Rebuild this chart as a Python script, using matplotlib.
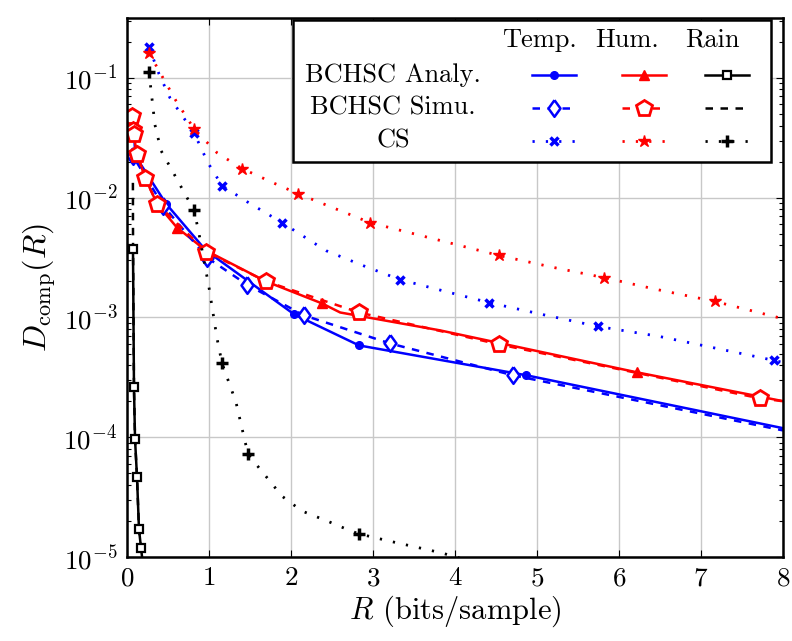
import numpy as np
import matplotlib
matplotlib.use("Agg")
import matplotlib.pyplot as plt
from matplotlib.patches import Rectangle
from matplotlib.lines import Line2D

plt.rcParams['font.family'] = 'serif'
plt.rcParams['font.serif'] = ['cmr10']
plt.rcParams['mathtext.fontset'] = 'cm'
plt.rcParams['axes.formatter.use_mathtext'] = True
plt.rcParams['font.size'] = 19

# BCHSC analytical
temp_an_R = [0.06, 0.085, 0.10, 0.476, 0.963, 2.04, 2.83, 4.87, 8.0]
temp_an_D = [0.046, 0.038, 0.0224, 8.9e-3, 3.62e-3, 1.06e-3, 5.84e-4, 3.29e-4, 1.19e-4]
hum_an_R = [0.06, 0.073, 0.12, 0.22, 0.366, 0.61, 0.963, 1.695, 2.378, 2.6, 3.817, 6.22, 8.0]
hum_an_D = [0.0482, 0.0369, 0.0233, 0.0147, 8.9e-3, 5.62e-3, 3.62e-3, 2.0e-3, 1.31e-3,
            1.10e-3, 7.8e-4, 3.48e-4, 2.0e-4]
rain_an_R = [0.073, 0.085, 0.098, 0.122, 0.146, 0.171, 0.20]
rain_an_D = [3.76e-3, 2.61e-4, 9.6e-5, 4.64e-5, 1.71e-5, 1.19e-5, 8.0e-6]

# BCHSC simulation
temp_si_R = [0.06, 0.07, 0.44, 0.976, 1.463, 2.159, 3.207, 4.707, 8.0]
temp_si_D = [0.046, 0.0224, 8.58e-3, 3.16e-3, 1.88e-3, 1.04e-3, 6.07e-4, 3.29e-4, 1.14e-4]
hum_si_R = [0.06, 0.073, 0.085, 0.122, 0.22, 0.366, 0.963, 1.695, 2.83, 4.537, 7.72, 8.0]
hum_si_D = [0.0482, 0.0369, 0.0341, 0.0233, 0.0147, 8.9e-3, 3.55e-3, 2.0e-3, 1.10e-3,
            5.96e-4, 2.11e-4, 2.0e-4]
rain_si_R = [0.072, 0.073, 0.074, 0.085, 0.098, 0.122, 0.146, 0.171, 0.20]
rain_si_D = [0.0133, 6.0e-3, 3.76e-3, 2.61e-4, 9.6e-5, 4.64e-5, 1.71e-5, 1.19e-5, 8.0e-6]

# CS
temp_cs_R = [0.268, 0.39, 0.524, 0.817, 0.988, 1.159, 1.463, 1.89, 2.427, 2.878, 3.329,
             3.793, 4.415, 5.061, 5.744, 6.488, 7.134, 7.89, 8.0]
temp_cs_D = [0.181, 0.108, 0.0681, 0.0348, 0.0195, 0.0126, 9.26e-3, 6.19e-3, 3.61e-3,
             2.71e-3, 2.07e-3, 1.71e-3, 1.33e-3, 1.06e-3, 8.41e-4, 6.95e-4, 5.62e-4,
             4.38e-4, 4.21e-4]
temp_cs_marks = [0, 3, 5, 7, 10, 12, 14, 17]
hum_cs_R = [0.268, 0.439, 0.598, 0.817, 1.098, 1.402, 1.805, 2.085, 2.963, 3.634, 4.537,
            5.207, 5.817, 6.463, 7.171, 7.988]
hum_cs_D = [0.162, 0.1, 0.0643, 0.0376, 0.0237, 0.0175, 0.0131, 0.0108, 6.19e-3, 4.73e-3,
            3.29e-3, 2.61e-3, 2.15e-3, 1.71e-3, 1.36e-3, 9.8e-4]
hum_cs_marks = [0, 3, 5, 7, 8, 10, 12, 14]
rain_cs_R = [0.268, 0.305, 0.341, 0.415, 0.573, 0.732, 0.817, 0.878, 1.0, 1.098, 1.159,
             1.329, 1.402, 1.476, 1.683, 1.89, 2.134, 2.439, 2.73, 2.83, 3.195, 3.524,
             3.841, 4.1]
rain_cs_D = [0.112, 0.0668, 0.0405, 0.0247, 0.0158, 0.010, 7.94e-3, 5.0e-3, 1.78e-3,
             6.68e-4, 4.14e-4, 1.96e-4, 1.19e-4, 7.2e-5, 4.82e-5, 3.22e-5, 2.42e-5,
             2.0e-5, 1.65e-5, 1.56e-5, 1.36e-5, 1.21e-5, 1.08e-5, 9.6e-6]
rain_cs_marks = [0, 6, 10, 13, 19]

col_labels = ['Temp.', 'Hum.', 'Rain']
row_labels = ['BCHSC Analy.', 'BCHSC Simu.', 'CS']

BLUE = '#0000ff'
RED = '#ff0000'
dotted = (0, (0.8, 4))
dashed = (0, (3, 3))
lw = 1.8
# pgfplots-like diamond, a bit taller than wide
diamond = [(0, 1), (0.72, 0), (0, -1), (-0.72, 0), (0, 1)]

styles = {
    'temp_an': dict(color=BLUE, ls='-', lw=lw, marker='o', ms=5.5),
    'hum_an': dict(color=RED, ls='-', lw=lw, marker='^', ms=7.5),
    'rain_an': dict(color='black', ls='-', lw=lw, marker='s', ms=6, mfc='white', mew=1.6),
    'temp_si': dict(color=BLUE, ls=dashed, lw=lw, marker=diamond, ms=12, mfc='white', mew=1.8),
    'hum_si': dict(color=RED, ls=dashed, lw=lw, marker='p', ms=12, mfc='white', mew=2),
    'rain_si': dict(color='black', ls=dashed, lw=lw),
    'temp_cs': dict(color=BLUE, ls=dotted, lw=2, marker='x', ms=5.5, mew=2.5),
    'hum_cs': dict(color=RED, ls=dotted, lw=2, marker='*', ms=9),
    'rain_cs': dict(color='black', ls=dotted, lw=2, marker='+', ms=8, mew=2.5),
}

fig = plt.figure(figsize=(7.92, 6.41), dpi=100)
ax = fig.add_axes([127 / 792, 1 - 557 / 641, 656 / 792, 539 / 641])

ax.plot(temp_an_R, temp_an_D, markevery=list(range(len(temp_an_R) - 1)), **styles['temp_an'])
ax.plot(hum_an_R, hum_an_D, markevery=[0, 5, 8, 11], **styles['hum_an'])
ax.plot(rain_si_R, rain_si_D, **styles['rain_si'])
ax.plot(rain_an_R, rain_an_D, **styles['rain_an'])
ax.plot(temp_si_R, temp_si_D, markevery=list(range(len(temp_si_R) - 1)), **styles['temp_si'])
ax.plot(hum_si_R, hum_si_D, markevery=list(range(len(hum_si_R) - 1)), **styles['hum_si'])
ax.plot(temp_cs_R, temp_cs_D, markevery=temp_cs_marks, **styles['temp_cs'])
ax.plot(hum_cs_R, hum_cs_D, markevery=hum_cs_marks, **styles['hum_cs'])
ax.plot(rain_cs_R, rain_cs_D, markevery=rain_cs_marks, **styles['rain_cs'])

ax.set_yscale('log')
ax.set_xlim(0, 8)
ax.set_ylim(1e-5, 10 ** -0.5)
ax.set_xticks(range(0, 9))
ax.grid(True, which='major', color='#c8c8c8', lw=1)
ax.set_axisbelow(True)
ax.tick_params(which='both', direction='in', top=True, right=True, width=0.8)
ax.tick_params(which='major', length=5, pad=7, labelsize=19.5)
ax.tick_params(which='minor', length=3)
for s in ax.spines.values():
    s.set_linewidth(1.8)

ax.set_xlabel(r'$R$ (bits/sample)', fontsize=22, labelpad=2)
ax.set_ylabel(r'$D_{\mathrm{comp}}(R)$', fontsize=23, labelpad=4)

# legend as a small table
def fx(px):
    return px / 792

def fy(py):
    return 1 - py / 641

box = Rectangle((fx(293), fy(162)), fx(771) - fx(293), fy(20) - fy(162),
                transform=fig.transFigure, facecolor='white', edgecolor='black',
                lw=1.8, zorder=10)
fig.patches.append(box)

head_x = [539, 627, 712]
col_x = [554, 644, 727]
row_y = [75, 108, 141]
for cx, lab in zip(head_x, col_labels):
    fig.text(fx(cx), fy(40), lab, ha='center', va='center', zorder=11)
for ry, lab in zip(row_y, row_labels):
    fig.text(fx(393), fy(ry), lab, ha='center', va='center', zorder=11)

keys = [['temp_an', 'hum_an', 'rain_an'],
        ['temp_si', 'hum_si', 'rain_si'],
        ['temp_cs', 'hum_cs', 'rain_cs']]
for ry, row in zip(row_y, keys):
    for cx, k in zip(col_x, row):
        st = dict(styles[k])
        ln = Line2D([fx(cx - 22), fx(cx), fx(cx + 22)], [fy(ry)] * 3,
                    transform=fig.transFigure, markevery=[1], zorder=11, **st)
        fig.lines.append(ln)

fig.savefig('out.png', dpi=100)
